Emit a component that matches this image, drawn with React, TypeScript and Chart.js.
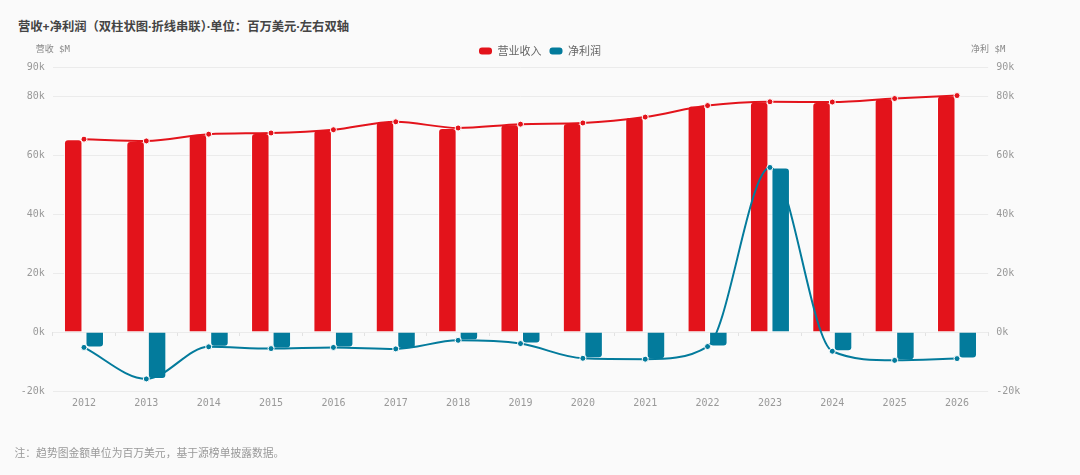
import React, { useEffect, useRef } from "react";
import { Chart, registerables } from "chart.js";

Chart.register(...registerables);

const YEARS = ["2012", "2013", "2014", "2015", "2016", "2017", "2018", "2019", "2020", "2021", "2022", "2023", "2024", "2025", "2026"];
const REVENUE = [65500, 64900, 67200, 67600, 68700, 71400, 69300, 70600, 71000, 73000, 76900, 78200, 78100, 79300, 80300];
const NET_PROFIT = [-5200, -15900, -5000, -5600, -5200, -5700, -2800, -3900, -8900, -9200, -4900, 55900, -6500, -9600, -9000];
const Y_TICKS = [-20000, 0, 20000, 40000, 60000, 80000, 90000];
const SERIES_NAMES = ["营业收入", "净利润"];
const AXIS_TITLES = ["营收 $M", "净利 $M"];
const TITLE = "营收+净利润（双柱状图·折线串联）·单位：百万美元·左右双轴";
const NOTE = "注：趋势图金额单位为百万美元，基于源榜单披露数据。";

const RED = "#e3131b";
const TEAL = "#037b9c";
const GRID = "#ebebeb";
const TICK_COLOR = "#999999";
const MONO = '"DejaVu Sans Mono", "Noto Sans CJK SC", monospace';
const CJK = '"Noto Sans CJK SC", "Noto Sans", sans-serif';
const TITLE_FONT = '"Noto Sans", "Noto Sans CJK SC", sans-serif';

const legendPatch = {
  id: "legendPatch",
  afterInit(chart: any) {
    const lg = chart.legend;
    if (lg && !lg._patched) {
      const orig = lg.fit.bind(lg);
      lg.fit = function () {
        orig();
        this.height = 29.5;
      };
      lg._patched = true;
    }
  },
};

const axisTitles = {
  id: "axisTitles",
  afterDraw(chart: any) {
    const { ctx, chartArea } = chart;
    ctx.save();
    ctx.font = `9px ${MONO}`;
    ctx.fillStyle = "#888888";
    ctx.textAlign = "center";
    ctx.textBaseline = "middle";
    ctx.fillText(AXIS_TITLES[0], chartArea.left, 50);
    ctx.fillText(AXIS_TITLES[1], chartArea.right, 50);
    ctx.restore();
  },
};

const fmt = (v: any) => `${Number(v) / 1000}k`;

export default function App() {
  const ref = useRef<HTMLCanvasElement | null>(null);

  useEffect(() => {
    if (!ref.current) return;
    const chart = new Chart(ref.current, {
      type: "bar",
      data: {
        labels: YEARS,
        datasets: [
          {
            type: "bar",
            label: SERIES_NAMES[0],
            data: REVENUE,
            backgroundColor: RED,
            borderColor: "rgba(255,255,255,0.85)",
            borderWidth: 1,
            borderSkipped: "bottom",
            borderRadius: 4,
            categoryPercentage: 0.69,
            barPercentage: 0.86,
            yAxisID: "y",
            order: 2,
          },
          {
            type: "bar",
            label: SERIES_NAMES[1],
            data: NET_PROFIT,
            backgroundColor: TEAL,
            borderColor: "rgba(255,255,255,0.85)",
            borderWidth: 1,
            borderSkipped: "bottom",
            borderRadius: 4,
            categoryPercentage: 0.69,
            barPercentage: 0.86,
            yAxisID: "y1",
            order: 2,
          },
          {
            type: "line",
            label: SERIES_NAMES[0] + "趋势",
            data: REVENUE,
            borderColor: RED,
            backgroundColor: RED,
            borderWidth: 2,
            cubicInterpolationMode: "monotone",
            pointRadius: 3,
            pointBorderColor: "#ffffff",
            pointBorderWidth: 1,
            pointBackgroundColor: RED,
            yAxisID: "y",
            order: 1,
          },
          {
            type: "line",
            label: SERIES_NAMES[1] + "趋势",
            data: NET_PROFIT,
            borderColor: TEAL,
            backgroundColor: TEAL,
            borderWidth: 2,
            cubicInterpolationMode: "monotone",
            pointRadius: 3,
            pointBorderColor: "#ffffff",
            pointBorderWidth: 1,
            pointBackgroundColor: TEAL,
            yAxisID: "y1",
            order: 0,
          },
        ] as any,
      },
      options: {
        responsive: false,
        animation: false,
        layout: { padding: { top: 37.5, left: 0, right: 0, bottom: 66 } },
        plugins: {
          title: { display: false },
          tooltip: { enabled: false },
          legend: {
            position: "top",
            align: "center",
            labels: {
              boxWidth: 13,
              boxHeight: 7,
              padding: 8,
              useBorderRadius: true,
              borderRadius: 3,
              color: "#666666",
              font: { family: CJK, size: 11 },
              generateLabels: (c: any) =>
                Chart.defaults.plugins.legend.labels
                  .generateLabels(c)
                  .filter((it: any) => it.datasetIndex < 2)
                  .map((it: any) => ({ ...it, lineWidth: 0 })),
            },
          },
        },
        scales: {
          x: {
            type: "category",
            position: "bottom",
            grid: { display: false, drawTicks: false },
            border: { display: false },
            ticks: {
              color: TICK_COLOR,
              font: { family: MONO, size: 10 },
              padding: 6,
              maxRotation: 0,
            },
            afterFit: (s: any) => {
              s.height = 18;
            },
          },
          x0: {
            type: "category",
            axis: "x",
            position: { y: 0 },
            grid: {
              display: true,
              drawOnChartArea: false,
              drawTicks: true,
              tickLength: 4,
              color: "#e2e2e2",
              offset: true,
            },
            border: { display: false },
            ticks: { display: false },
          },
          y: {
            type: "linear",
            position: "left",
            min: -20000,
            max: 90000,
            grid: { color: GRID, drawTicks: false },
            border: { display: false },
            ticks: {
              color: TICK_COLOR,
              font: { family: MONO, size: 10 },
              padding: 8,
              callback: fmt,
            },
            afterBuildTicks: (s: any) => {
              s.ticks = Y_TICKS.map((v) => ({ value: v }));
            },
            afterFit: (s: any) => {
              s.width = 52.8;
            },
          },
          y1: {
            type: "linear",
            position: "right",
            min: -20000,
            max: 90000,
            grid: { drawOnChartArea: false, drawTicks: false },
            border: { display: false },
            ticks: {
              color: TICK_COLOR,
              font: { family: MONO, size: 10 },
              padding: 8,
              callback: fmt,
            },
            afterBuildTicks: (s: any) => {
              s.ticks = Y_TICKS.map((v) => ({ value: v }));
            },
            afterFit: (s: any) => {
              s.width = 1080 - 988.2;
            },
          },
        } as any,
      },
      plugins: [legendPatch, axisTitles],
    } as any);
    return () => chart.destroy();
  }, []);

  return (
    <div
      style={{
        position: "fixed",
        left: 0,
        top: 0,
        width: 1080,
        height: 475,
        background: "#fafafa",
        overflow: "hidden",
      }}
    >
      <div
        style={{
          position: "absolute",
          left: 18,
          top: 19,
          fontFamily: TITLE_FONT,
          fontWeight: 700,
          fontSize: 12.3,
          lineHeight: "16px",
          color: "#444444",
          whiteSpace: "nowrap",
        }}
      >
        {TITLE}
      </div>
      <canvas
        ref={ref}
        width={1080}
        height={475}
        style={{ position: "absolute", left: 0, top: 0, width: 1080, height: 475 }}
      />
      <div
        style={{
          position: "absolute",
          left: 14.5,
          top: 443.7,
          fontFamily: CJK,
          fontSize: 10.8,
          lineHeight: "16px",
          color: "#999999",
          whiteSpace: "nowrap",
        }}
      >
        {NOTE}
      </div>
    </div>
  );
}
